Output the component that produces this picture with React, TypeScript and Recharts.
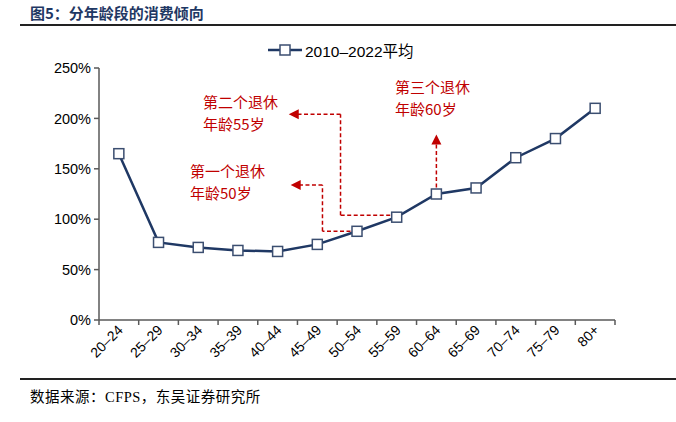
import React from 'react';
import { LineChart, Line, XAxis, YAxis, ReferenceLine, ReferenceDot } from 'recharts';

const ageGroups = ['20–24', '25–29', '30–34', '35–39', '40–44', '45–49', '50–54', '55–59', '60–64', '65–69', '70–74', '75–79', '80+'];
const avgPropensity = [165, 77, 72, 69, 68, 75, 88, 102, 125, 131, 161, 180, 210];
const yTicks = [0, 50, 100, 150, 200, 250];
const xTicks = Array.from({ length: 27 }, (_, k) => k / 2 - 0.5);

const data = ageGroups.map((g, i) => ({ idx: i, group: g, value: avgPropensity[i] }));

const NAVY = '#1F3864';
const RED = '#C00000';
const AXIS = '#595959';

const SquareDot = (props: any) => {
  const { cx, cy } = props;
  if (cx == null || cy == null) return null;
  return <rect x={cx - 5} y={cy - 5} width={10} height={10} fill="#fff" stroke="#3B4E70" strokeWidth={1.5} />;
};

const XTick = (props: any) => {
  const { x, y, payload } = props;
  const v = payload.value;
  if (Number.isInteger(v)) {
    return (
      <text
        transform={`translate(${x + 5},${y + 11}) rotate(-45)`}
        textAnchor="end"
        fontSize={14}
        fill="#000"
        fontFamily="'Liberation Sans', Arial, sans-serif"
      >
        {ageGroups[v]}
      </text>
    );
  }
  return <line x1={x} x2={x} y1={y} y2={y + 5} stroke={AXIS} strokeWidth={1.5} />;
};

// arrow heads for the annotations
const arrowLeft = (p: any) => (
  <polygon points={`${p.cx},${p.cy} ${p.cx + 10},${p.cy - 5} ${p.cx + 10},${p.cy + 5}`} fill={RED} />
);
const arrowUp = (p: any) => (
  <polygon points={`${p.cx},${p.cy} ${p.cx - 5},${p.cy + 10} ${p.cx + 5},${p.cy + 10}`} fill={RED} />
);

const dash = { stroke: RED, strokeDasharray: '4 2.5', strokeWidth: 1.5 };

const noteStyle: React.CSSProperties = {
  position: 'absolute',
  color: RED,
  fontSize: 15,
  lineHeight: '22px',
  fontFamily: "'Noto Sans CJK SC', sans-serif",
  whiteSpace: 'nowrap',
};

export default function App() {
  return (
    <div style={{ position: 'absolute', left: 0, top: 0, width: 676, height: 422, background: '#fff', overflow: 'hidden' }}>
      <div style={{ position: 'absolute', left: 30, top: 2, fontSize: 15, fontWeight: 700, color: NAVY, fontFamily: "'Noto Sans CJK SC', sans-serif" }}>
        图5：分年龄段的消费倾向
      </div>
      <div style={{ position: 'absolute', left: 20, right: 0, top: 24, height: 1.5, background: '#222' }} />

      <LineChart width={676} height={422} data={data} margin={{ top: 68, right: 61, left: 0, bottom: 52 }}>
        <XAxis
          dataKey="idx"
          type="number"
          domain={[-0.5, 12.5]}
          ticks={xTicks}
          interval={0}
          tick={<XTick />}
          tickLine={false}
          tickSize={0}
          tickMargin={0}
          height={50}
          axisLine={{ stroke: AXIS, strokeWidth: 1.5 }}
          allowDataOverflow
        />
        <YAxis
          domain={[0, 250]}
          ticks={yTicks}
          interval={0}
          width={99}
          tickFormatter={(v: number) => `${v}%`}
          tick={{ fill: '#000', fontSize: 14.5, fontFamily: "'Liberation Sans', Arial, sans-serif" }}
          tickLine={{ stroke: AXIS, strokeWidth: 1.5 }}
          tickSize={5}
          tickMargin={3}
          axisLine={{ stroke: AXIS, strokeWidth: 1.5 }}
        />

        {/* 第一个退休年龄50岁 */}
        <ReferenceLine segment={[{ x: 6, y: 88 }, { x: 5.13, y: 88 }]} {...dash} />
        <ReferenceLine segment={[{ x: 5.13, y: 88 }, { x: 5.13, y: 134 }]} {...dash} />
        <ReferenceLine segment={[{ x: 5.13, y: 134 }, { x: 4.5, y: 134 }]} {...dash} />
        <ReferenceDot x={4.33} y={134} r={0} shape={arrowLeft} />

        {/* 第二个退休年龄55岁 */}
        <ReferenceLine segment={[{ x: 7, y: 104 }, { x: 5.585, y: 104 }]} {...dash} />
        <ReferenceLine segment={[{ x: 5.585, y: 104 }, { x: 5.585, y: 204 }]} {...dash} />
        <ReferenceLine segment={[{ x: 5.585, y: 204 }, { x: 4.45, y: 204 }]} {...dash} />
        <ReferenceDot x={4.28} y={204} r={0} shape={arrowLeft} />

        {/* 第三个退休年龄60岁 */}
        <ReferenceLine segment={[{ x: 8, y: 125 }, { x: 8, y: 176 }]} {...dash} />
        <ReferenceDot x={8} y={184} r={0} shape={arrowUp} />

        <Line
          type="linear"
          dataKey="value"
          stroke={NAVY}
          strokeWidth={2.5}
          dot={<SquareDot />}
          activeDot={false}
          isAnimationActive={false}
        />
      </LineChart>

      {/* legend */}
      <div style={{ position: 'absolute', left: 268, top: 40, height: 20, display: 'flex', alignItems: 'center', fontSize: 15.5, fontFamily: "'Liberation Sans', 'Noto Sans CJK SC', sans-serif", color: '#000' }}>
        <svg width={34} height={14} style={{ marginRight: 3 }}>
          <line x1={0} x2={34} y1={7} y2={7} stroke={NAVY} strokeWidth={2.5} />
          <rect x={12} y={2} width={10} height={10} fill="#fff" stroke="#3B4E70" strokeWidth={1.5} />
        </svg>
        <span>2010–2022平均</span>
      </div>

      <div style={{ ...noteStyle, left: 190, top: 160 }}>
        第一个退休<br />年龄50岁
      </div>
      <div style={{ ...noteStyle, left: 203, top: 91 }}>
        第二个退休<br />年龄55岁
      </div>
      <div style={{ ...noteStyle, left: 395, top: 76 }}>
        第三个退休<br />年龄60岁
      </div>

      <div style={{ position: 'absolute', left: 20, right: 0, top: 378, height: 1.5, background: '#222' }} />
      <div style={{ position: 'absolute', left: 30, top: 385, fontSize: 14.5, letterSpacing: 0.5, color: '#000', fontFamily: "'Liberation Serif', 'Noto Sans CJK SC', serif" }}>
        数据来源：CFPS，东吴证券研究所
      </div>
    </div>
  );
}
